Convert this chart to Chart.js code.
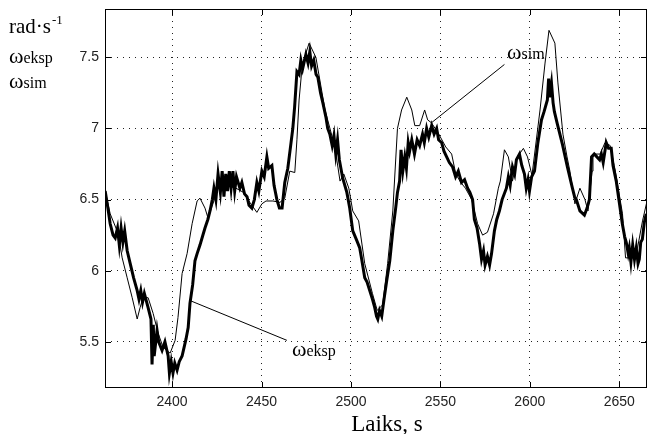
<!DOCTYPE html>
<html>
<head>
<meta charset="utf-8">
<script src="https://cdn.jsdelivr.net/npm/chart.js@4/dist/chart.umd.min.js"></script>
<style>
  html, body { margin: 0; padding: 0; background: #fff; }
  #wrap { width: 648px; height: 434px; }
</style>
</head>
<body>
<div id="wrap"><canvas id="chart" width="648" height="434"></canvas></div>
<script>
// time axis (s) and angular speed (rad/s)
const tEksp = [2362.6, 2364, 2365.4, 2367, 2368.2, 2369.5, 2370.5, 2371.5, 2372.5, 2373.5, 2374.9, 2376.6, 2378.5, 2380.5, 2381.5, 2382.5, 2383.5, 2384.5, 2386.6, 2388.2, 2388.8, 2389.5, 2390, 2391.6, 2392.5, 2394.4, 2396, 2397.8, 2398.5, 2399.5, 2400.5, 2401.5, 2402.8, 2404, 2405.6, 2407.8, 2409, 2410, 2411.5, 2412.8, 2414, 2415.6, 2417, 2418.4, 2420, 2421.2, 2422.5, 2423.4, 2424.5, 2425.7, 2427, 2428, 2429, 2430, 2431, 2432, 2433, 2434, 2435, 2436, 2437.9, 2439, 2440.5, 2441.9, 2443, 2444.6, 2446, 2447.4, 2448.5, 2450.2, 2451.5, 2453, 2454, 2455.8, 2457, 2458.6, 2460, 2461.5, 2463, 2464.7, 2466.5, 2467.5, 2468.5, 2469.8, 2471, 2472, 2473, 2474.8, 2476, 2477, 2478, 2479.2, 2480.5, 2481.5, 2483, 2484.3, 2486, 2487, 2488.2, 2489.5, 2490.5, 2491.5, 2492.5, 2493.5, 2495.4, 2497.7, 2499.3, 2501, 2503, 2504.9, 2506, 2507.7, 2509, 2510.5, 2512, 2513.3, 2514.3, 2515, 2516, 2517.2, 2518.5, 2520, 2521.7, 2523.4, 2525.1, 2526, 2527.2, 2528, 2529, 2530.1, 2531, 2532, 2532.8, 2534, 2535.5, 2537, 2538.4, 2540, 2541, 2542.3, 2543.5, 2545.1, 2546.5, 2547.9, 2549, 2550.7, 2552, 2553.5, 2555, 2556.8, 2558.5, 2560, 2561.8, 2563.5, 2565.2, 2566.5, 2568, 2569, 2570.5, 2571.9, 2573, 2574.1, 2575, 2576.3, 2577.5, 2578.6, 2580.2, 2581.5, 2583, 2584.5, 2586.9, 2588, 2589, 2590.3, 2591.5, 2592.5, 2594.2, 2595.5, 2597, 2598, 2599, 2599.8, 2601, 2602.6, 2604.5, 2606.5, 2608, 2609.8, 2610.5, 2611, 2612.1, 2613, 2613.7, 2615.4, 2618.2, 2621, 2623.8, 2625, 2626, 2628, 2630.5, 2632, 2633.3, 2634.5, 2636, 2637.5, 2639, 2640, 2641, 2642.7, 2644, 2645.5, 2646.5, 2648.3, 2650, 2651.7, 2653, 2653.9, 2655, 2655.6, 2656.5, 2657.5, 2658.5, 2659.5, 2660.5, 2661.2, 2662, 2662.9, 2664, 2665.1];
const wEksp = [6.56, 6.45, 6.33, 6.25, 6.23, 6.30, 6.18, 6.30, 6.20, 6.28, 6.14, 6.05, 5.95, 5.86, 5.80, 5.86, 5.78, 5.84, 5.74, 5.66, 5.34, 5.62, 5.40, 5.58, 5.50, 5.44, 5.50, 5.40, 5.28, 5.36, 5.28, 5.35, 5.30, 5.36, 5.40, 5.52, 5.60, 5.77, 5.90, 6.07, 6.12, 6.18, 6.24, 6.30, 6.36, 6.42, 6.50, 6.58, 6.50, 6.68, 6.55, 6.70, 6.52, 6.68, 6.56, 6.70, 6.58, 6.70, 6.56, 6.66, 6.58, 6.62, 6.54, 6.52, 6.46, 6.44, 6.50, 6.62, 6.56, 6.70, 6.66, 6.80, 6.72, 6.74, 6.60, 6.50, 6.44, 6.44, 6.62, 6.72, 6.90, 7.00, 7.15, 7.40, 7.38, 7.48, 7.42, 7.52, 7.46, 7.54, 7.44, 7.48, 7.38, 7.36, 7.25, 7.18, 7.08, 7.00, 6.96, 6.88, 6.95, 6.82, 6.92, 6.78, 6.65, 6.55, 6.44, 6.28, 6.22, 6.16, 6.08, 5.95, 5.92, 5.86, 5.80, 5.74, 5.68, 5.66, 5.72, 5.68, 5.80, 5.93, 6.07, 6.28, 6.45, 6.55, 6.63, 6.85, 6.70, 6.80, 6.72, 6.90, 6.84, 6.92, 6.82, 6.92, 6.88, 6.96, 6.90, 7.00, 6.94, 7.02, 6.96, 7.00, 6.92, 6.90, 6.84, 6.80, 6.76, 6.73, 6.66, 6.70, 6.62, 6.64, 6.58, 6.55, 6.50, 6.36, 6.30, 6.19, 6.08, 6.14, 6.04, 6.10, 6.04, 6.12, 6.28, 6.36, 6.42, 6.50, 6.58, 6.66, 6.60, 6.73, 6.68, 6.78, 6.82, 6.74, 6.68, 6.58, 6.64, 6.56, 6.66, 6.70, 6.90, 7.06, 7.12, 7.20, 7.35, 7.22, 7.32, 7.18, 7.12, 7.03, 6.89, 6.73, 6.58, 6.52, 6.50, 6.42, 6.39, 6.44, 6.50, 6.80, 6.82, 6.80, 6.78, 6.82, 6.76, 6.90, 6.86, 6.86, 6.74, 6.63, 6.48, 6.33, 6.24, 6.20, 6.12, 6.16, 6.06, 6.18, 6.08, 6.16, 6.05, 6.08, 6.20, 6.22, 6.34, 6.40];

const tSim = [2362.6, 2365.4, 2369.9, 2372.1, 2374.9, 2377.7, 2380.5, 2382.1, 2383.8, 2386.6, 2389.4, 2392.2, 2395.0, 2398.9, 2401.7, 2403.3, 2405.6, 2408.4, 2411.2, 2414.0, 2415.6, 2418.4, 2420.1, 2422.3, 2425.7, 2430, 2435.7, 2440, 2443.5, 2447.4, 2450.2, 2452.5, 2456.4, 2460.3, 2463, 2465.8, 2468.6, 2469.8, 2471, 2472.8, 2476.6, 2480.4, 2485.5, 2491, 2493.9, 2496, 2498.8, 2501, 2504.3, 2507.7, 2512, 2514.7, 2517.7, 2520.5, 2523.4, 2526, 2528.3, 2531.2, 2534, 2535.7, 2538.4, 2541.2, 2542.9, 2545, 2549.1, 2553, 2556.3, 2558.6, 2561.4, 2564, 2567.5, 2570.8, 2573.6, 2576.3, 2579.7, 2582.4, 2583.5, 2585.8, 2588, 2590.3, 2593, 2596.4, 2598.7, 2601.2, 2605.7, 2608.5, 2610.7, 2614, 2615.7, 2618.5, 2620.8, 2622.4, 2625.2, 2628, 2630.8, 2632.5, 2634.8, 2635.3, 2639.3, 2642, 2644.9, 2647.8, 2649.4, 2651.8, 2653.5, 2657.4, 2660.2, 2663, 2665.7];
const wSim = [6.56, 6.40, 6.26, 6.09, 5.95, 5.81, 5.66, 5.74, 5.81, 5.81, 5.70, 5.56, 5.46, 5.42, 5.51, 5.67, 5.98, 6.12, 6.33, 6.49, 6.51, 6.44, 6.37, 6.45, 6.58, 6.60, 6.58, 6.55, 6.48, 6.41, 6.47, 6.49, 6.49, 6.48, 6.51, 6.70, 6.69, 6.92, 7.20, 7.45, 7.60, 7.50, 7.13, 6.87, 6.63, 6.68, 6.58, 6.42, 6.35, 6.05, 5.84, 5.72, 5.76, 6.05, 6.42, 7.00, 7.13, 7.22, 7.13, 7.02, 7.02, 7.13, 7.06, 7.04, 6.96, 6.87, 6.82, 6.68, 6.62, 6.58, 6.50, 6.33, 6.25, 6.27, 6.40, 6.58, 6.63, 6.85, 6.80, 6.63, 6.80, 6.86, 6.80, 6.67, 7.13, 7.46, 7.69, 7.60, 7.32, 6.96, 6.80, 6.70, 6.47, 6.58, 6.50, 6.42, 6.70, 6.82, 6.82, 6.90, 6.88, 6.70, 6.58, 6.40, 6.09, 6.09, 6.16, 6.35, 6.50];

const xTicks = [2400, 2450, 2500, 2550, 2600, 2650];
const yTicks = [5.5, 6, 6.5, 7, 7.5];
const xRange = [2362.5, 2665.5];
const yRange = [5.175, 7.84];

const SERIF = '"Liberation Serif", "Times New Roman", serif';
const SANS = '"Liberation Sans", Arial, sans-serif';

// draw "ω" + suffix as one label
function omegaLabel(ctx, x, y, suffix) {
  ctx.font = '22px ' + SERIF;
  ctx.fillText('ω', x, y);
  const w = ctx.measureText('ω').width;
  ctx.font = '16px ' + SERIF;
  ctx.fillText(suffix, x + w, y);
}

const framePlugin = {
  id: 'frame',
  afterDatasetsDraw(chart) {
    const { ctx, chartArea: a, scales } = chart;
    const xs = scales.x, ys = scales.y;
    ctx.save();
    ctx.strokeStyle = '#000';
    ctx.lineWidth = 1;
    ctx.setLineDash([]);
    ctx.strokeRect(a.left + 0.5, a.top + 0.5, a.right - a.left - 1, a.bottom - a.top - 1);

    // inward ticks on all four sides
    ctx.beginPath();
    xTicks.forEach(v => {
      const px = Math.round(xs.getPixelForValue(v)) + 0.5;
      ctx.moveTo(px, a.bottom); ctx.lineTo(px, a.bottom - 6);
      ctx.moveTo(px, a.top); ctx.lineTo(px, a.top + 6);
    });
    yTicks.forEach(v => {
      const py = Math.round(ys.getPixelForValue(v)) + 0.5;
      ctx.moveTo(a.left, py); ctx.lineTo(a.left + 6, py);
      ctx.moveTo(a.right, py); ctx.lineTo(a.right - 6, py);
    });
    ctx.stroke();

    // leader lines for the two labels
    ctx.beginPath();
    ctx.moveTo(xs.getPixelForValue(2545), ys.getPixelForValue(7.04));
    ctx.lineTo(xs.getPixelForValue(2585.8), ys.getPixelForValue(7.45));
    ctx.moveTo(xs.getPixelForValue(2410), ys.getPixelForValue(5.79));
    ctx.lineTo(xs.getPixelForValue(2464.2), ys.getPixelForValue(5.51));
    ctx.stroke();

    ctx.fillStyle = '#000';
    ctx.textBaseline = 'alphabetic';
    ctx.textAlign = 'left';
    omegaLabel(ctx, xs.getPixelForValue(2587.3), ys.getPixelForValue(7.49), 'sim');
    omegaLabel(ctx, xs.getPixelForValue(2467), ys.getPixelForValue(5.40), 'eksp');

    // units / legend text at top left
    ctx.font = '21px ' + SERIF;
    ctx.fillText('rad·s', 9, 33);
    const w = ctx.measureText('rad·s').width;
    ctx.font = '13px ' + SERIF;
    ctx.fillText('-1', 9 + w + 1, 24);
    omegaLabel(ctx, 9, 63, 'eksp');
    omegaLabel(ctx, 9, 88, 'sim');

    // x axis title
    ctx.font = '23px ' + SERIF;
    ctx.textAlign = 'center';
    ctx.fillText('Laiks, s', 387, 431);
    ctx.restore();
  }
};

const eksp = tEksp.map((t, i) => ({ x: t, y: wEksp[i] }));
const sim = tSim.map((t, i) => ({ x: t, y: wSim[i] }));

new Chart(document.getElementById('chart'), {
  type: 'line',
  data: {
    datasets: [
      { label: 'ωeksp', data: eksp, borderColor: '#000', borderWidth: 3, pointRadius: 0, tension: 0, clip: 0 },
      { label: 'ωsim', data: sim, borderColor: '#000', borderWidth: 1, pointRadius: 0, tension: 0, clip: 0 }
    ]
  },
  options: {
    responsive: false,
    animation: false,
    devicePixelRatio: 1,
    layout: { padding: { left: 0, right: 1, top: 9, bottom: 0 } },
    plugins: { legend: { display: false }, tooltip: { enabled: false } },
    scales: {
      x: {
        type: 'linear',
        min: xRange[0],
        max: xRange[1],
        afterBuildTicks: s => { s.ticks = xTicks.map(v => ({ value: v })); },
        afterFit: s => { s.height = 46; s.paddingLeft = 0; s.paddingRight = 0; },
        grid: { color: '#222', lineWidth: 1, drawTicks: false },
        border: { display: false, dash: [1, 5] },
        ticks: {
          color: '#222',
          padding: 6,
          maxRotation: 0,
          font: { family: SANS, size: 14 },
          callback: v => String(v)
        }
      },
      y: {
        type: 'linear',
        min: yRange[0],
        max: yRange[1],
        afterBuildTicks: s => { s.ticks = yTicks.map(v => ({ value: v })); },
        afterFit: s => { s.width = 105; s.paddingTop = 0; s.paddingBottom = 0; },
        grid: { color: '#222', lineWidth: 1, drawTicks: false },
        border: { display: false, dash: [1, 5] },
        ticks: {
          color: '#222',
          padding: 6,
          font: { family: SANS, size: 14 },
          callback: v => String(v)
        }
      }
    }
  },
  plugins: [framePlugin]
});
</script>
</body>
</html>
